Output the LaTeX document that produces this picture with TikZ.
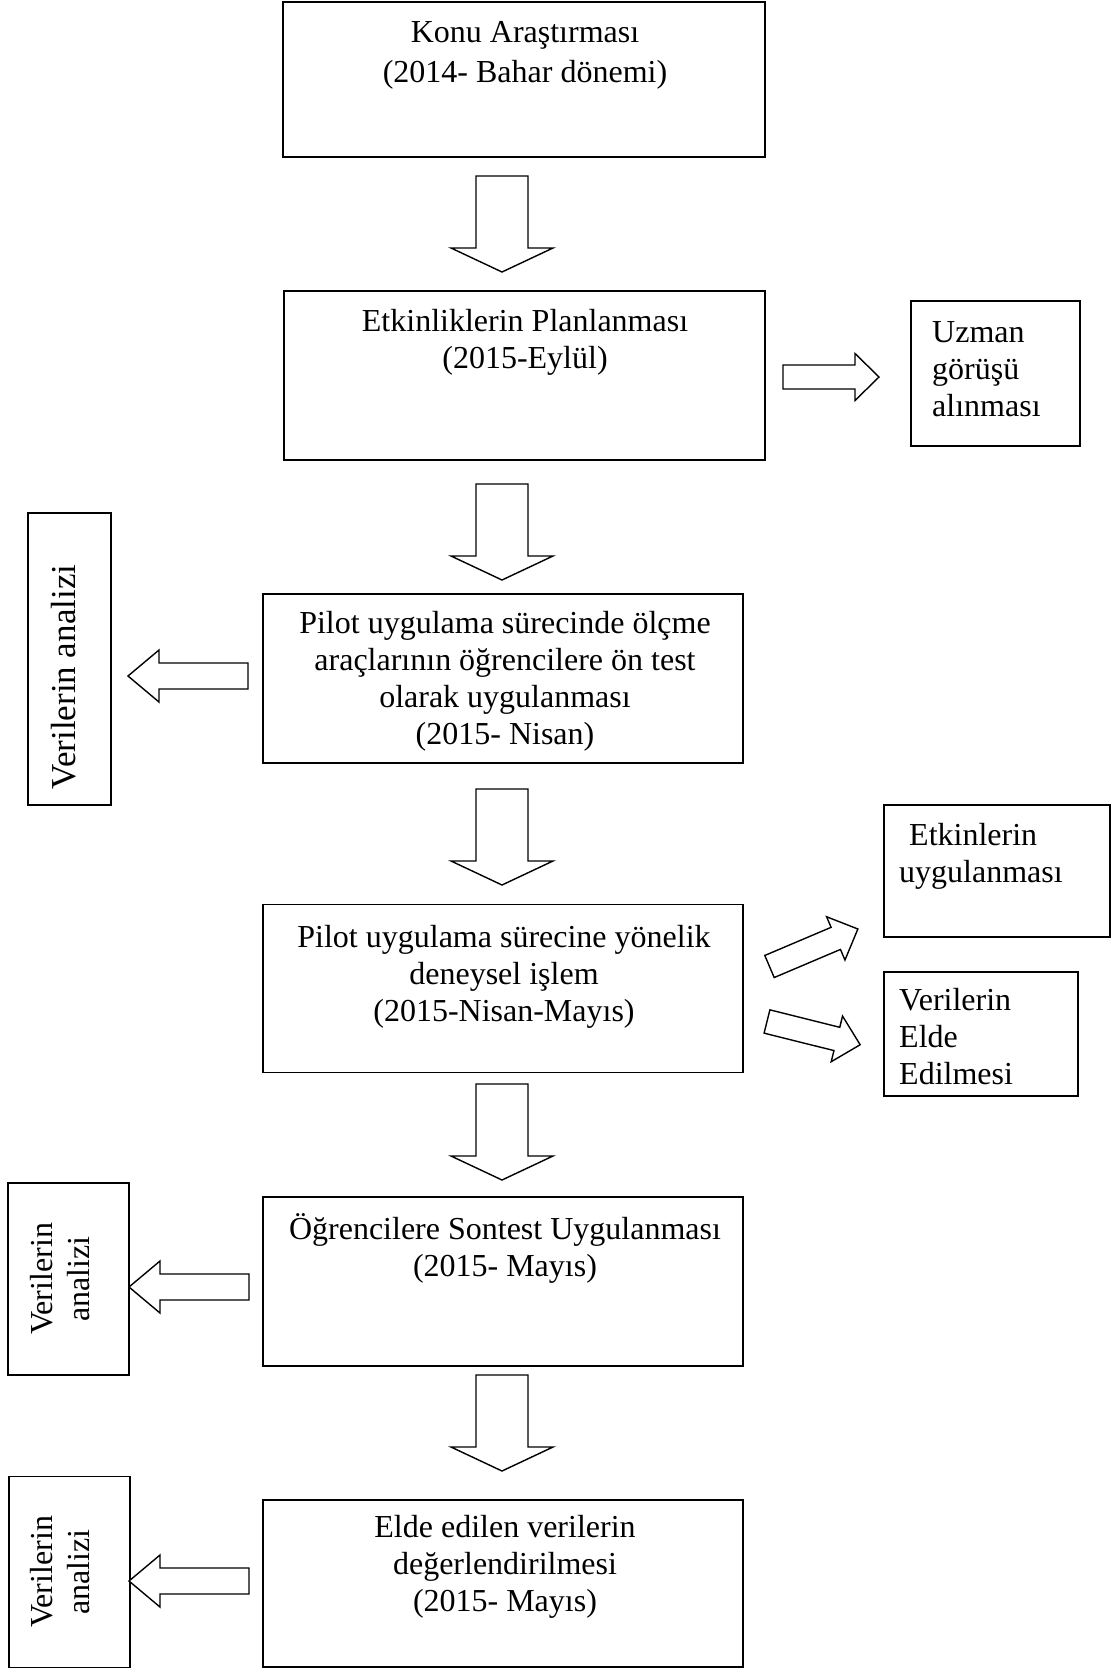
\documentclass[tikz,border=0pt]{standalone}
\usepackage{fontspec}
\setmainfont{Liberation Serif}
\usepackage{tikz}
\tikzstyle{box}=[draw=black, line width=1.6pt, inner sep=0pt]
\tikzstyle{txt}=[inner sep=0pt, align=center, font=\fontsize{32}{37}\selectfont]
\tikzstyle{ltxt}=[txt, align=left, anchor=west]
\tikzstyle{barrow}=[draw=black, line width=1.4pt, fill=white, line join=miter]

\begin{document}
\begin{tikzpicture}[x=1pt, y=-1pt]
    \useasboundingbox (0,0) rectangle (1115,1668);
    % main column
    \node[box, minimum width=482, minimum height=155] (konu) at (524,79.5) {};
    \node[box, minimum width=481, minimum height=169] (plan) at (524.5,375.5) {};
    \node[box, minimum width=480, minimum height=169] (pilot) at (503,678.5) {};
    \node[box, minimum width=480, minimum height=168] (deney) at (503,988.5) {};
    \node[box, minimum width=480, minimum height=169] (sontest) at (503,1281.5) {};
    \node[box, minimum width=480, minimum height=167] (degerl) at (503,1583.5) {};
    % side boxes
    \node[box, minimum width=169, minimum height=145] (uzman) at (995.5,373.5) {};
    \node[box, minimum width=226, minimum height=132] (etkin) at (997,871) {};
    \node[box, minimum width=194, minimum height=124] (elde) at (981,1034) {};
    \node[box, minimum width=83, minimum height=292] (veri1) at (69.5,659) {};
    \node[box, minimum width=121, minimum height=192] (veri2) at (68.5,1279) {};
    \node[box, minimum width=121, minimum height=191] (veri3) at (69.5,1572) {};

    \node[txt, font=\fontsize{32}{40}\selectfont] (konu-t) at (525,55) {Konu Araştırması\\(2014- Bahar dönemi)};
    \node[txt] (plan-t) at (525,342) {Etkinliklerin Planlanması\\(2015-Eylül)};
    \node[txt] (pilot-t) at (505,681) {Pilot uygulama sürecinde ölçme\\araçlarının öğrencilere ön test\\olarak uygulanması\\(2015- Nisan)};
    \node[txt] (deney-t) at (504,977) {Pilot uygulama sürecine yönelik\\deneysel işlem\\(2015-Nisan-Mayıs)};
    \node[txt] (sontest-t) at (505,1248) {Öğrencilere Sontest Uygulanması\\(2015- Mayıs)};
    \node[txt] (degerl-t) at (505,1567) {Elde edilen verilerin\\değerlendirilmesi\\(2015- Mayıs)};
    \node[ltxt] (uzman-t) at (932,369) {Uzman\\görüşü\\alınması};
    \node[ltxt] (etkin-t) at (899,856) {\hspace*{10pt}Etkinlerin\\uygulanması};
    \node[ltxt] (elde-t) at (899,1037) {Verilerin\\Elde\\Edilmesi};
    \node[txt, rotate=90, font=\fontsize{35}{40}\selectfont] (veri1-t) at (64,677) {Verilerin analizi};
    \node[txt, rotate=90] (veri2-t) at (60,1279) {Verilerin\\analizi};
    \node[txt, rotate=90] (veri3-t) at (60,1572) {Verilerin\\analizi};

    % block arrows
    \coordinate (d1) at (502,176);
    \coordinate (d2) at (502,484);
    \coordinate (d3) at (502,789);
    \coordinate (d4) at (502,1084);
    \coordinate (d5) at (502,1375);
    \coordinate (l1) at (248,676);
    \coordinate (l2) at (249,1287);
    \coordinate (l3) at (249,1581);
    \coordinate (r1) at (783,377);
    \coordinate (r2) at (769.5,966.5);
    \coordinate (r3) at (767,1021.5);
    \foreach \a in {d1,d2,d3,d4,d5}
      \draw[barrow, shift={(\a)}] (-26,0) -- (26,0) -- (26,72) -- (51,72) --
      (0,96) -- (-51,72) -- (-26,72) -- cycle;
    \foreach \a in {l1,l2,l3}
      \draw[barrow, shift={(\a)}] (0,-13) -- (-89,-13) -- (-89,-26) --
      (-120,0) -- (-89,26) -- (-89,13) -- (0,13) -- cycle;
    \foreach \a/\r in {r1/0, r2/23, r3/-14}
      \draw[barrow, shift={(\a)}, rotate=\r] (0,-12) -- (72,-12) --
      (72,-23.5) -- (96,0) -- (72,23.5) -- (72,12) -- (0,12) -- cycle;
\end{tikzpicture}
\end{document}
